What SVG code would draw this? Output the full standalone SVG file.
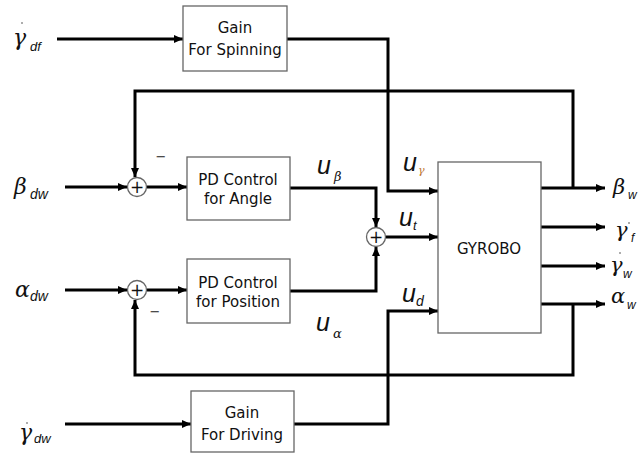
<svg xmlns="http://www.w3.org/2000/svg" width="640" height="456" viewBox="0 0 640 456">
<style>
.box{fill:#fff;stroke:#666;stroke-width:1.3}
.sum{fill:#fff;stroke:#666;stroke-width:1.3}
.wire{fill:none;stroke:#000;stroke-width:3;stroke-linejoin:miter}
.lbl{font-family:"DejaVu Sans",sans-serif;font-size:15px;fill:#111;text-anchor:middle}
.plus{font-family:"DejaVu Sans",sans-serif;font-size:17px;fill:#111;text-anchor:middle}
.minus{font-family:"DejaVu Sans",sans-serif;font-size:13px;fill:#222;text-anchor:middle}
.gr{font-family:"DejaVu Serif",serif;font-style:italic;fill:#111}
.sub{font-family:"Liberation Sans",sans-serif;font-style:italic;fill:#111}
.u{font-family:"Liberation Sans",sans-serif;font-style:italic;fill:#111;font-size:25px}
.dot{fill:#444}
</style>
<defs>
<marker id="ah" markerUnits="userSpaceOnUse" markerWidth="10" markerHeight="8" refX="9" refY="4" orient="auto">
<path d="M0,0 L9,4 L0,8 z" fill="#000"/>
</marker>
</defs>
<g id="connectors">
<path class="wire" d="M57,39 H183" marker-end="url(#ah)"/>
<path class="wire" d="M287,39 H388 V191 H438" marker-end="url(#ah)"/>
<path class="wire" d="M573,188 V91 H135 V177" marker-end="url(#ah)"/>
<path class="wire" d="M65,187 H127" marker-end="url(#ah)"/>
<path class="wire" d="M147,187 H187" marker-end="url(#ah)"/>
<path class="wire" d="M290,188 H376 V227" marker-end="url(#ah)"/>
<path class="wire" d="M65,290 H127" marker-end="url(#ah)"/>
<path class="wire" d="M147,290 H187" marker-end="url(#ah)"/>
<path class="wire" d="M573,304 V375 H135 V300" marker-end="url(#ah)"/>
<path class="wire" d="M290,291 H376 V247" marker-end="url(#ah)"/>
<path class="wire" d="M386,237 H438" marker-end="url(#ah)"/>
<path class="wire" d="M65,424 H191" marker-end="url(#ah)"/>
<path class="wire" d="M294,424 H388 V311 H438" marker-end="url(#ah)"/>
<path class="wire" d="M541,188 H605" marker-end="url(#ah)"/>
<path class="wire" d="M541,227 H605" marker-end="url(#ah)"/>
<path class="wire" d="M541,266 H605" marker-end="url(#ah)"/>
<path class="wire" d="M541,304 H605" marker-end="url(#ah)"/>
</g>
<g id="gain-spinning">
<rect class="box" x="183" y="6" width="104" height="65"/>
<text class="lbl" x="235" y="33">Gain</text>
<text class="lbl" x="235" y="55">For Spinning</text>
</g>
<g id="pd-angle">
<rect class="box" x="187" y="157" width="103" height="63"/>
<text class="lbl" x="238" y="185">PD Control</text>
<text class="lbl" x="238" y="204">for Angle</text>
</g>
<g id="pd-position">
<rect class="box" x="187" y="259" width="103" height="64"/>
<text class="lbl" x="238" y="288">PD Control</text>
<text class="lbl" x="238" y="307">for Position</text>
</g>
<g id="gain-driving">
<rect class="box" x="191" y="391" width="103" height="61"/>
<text class="lbl" x="242" y="418">Gain</text>
<text class="lbl" x="242" y="440">For Driving</text>
</g>
<g id="gyrobo">
<rect class="box" x="438" y="162" width="103" height="171"/>
<text class="lbl" x="489" y="254">GYROBO</text>
</g>
<g id="sum1">
<circle class="sum" cx="137" cy="187" r="9.5"/>
<text class="plus" x="137" y="193">+</text>
<text class="minus" x="161" y="161">−</text>
</g>
<g id="sum2">
<circle class="sum" cx="137" cy="290" r="9.5"/>
<text class="plus" x="137" y="296">+</text>
<text class="minus" x="155" y="316">−</text>
</g>
<g id="sum3">
<circle class="sum" cx="376" cy="237" r="9.5"/>
<text class="plus" x="376" y="243">+</text>
</g>
<g id="labels">
<circle class="dot" cx="22" cy="23" r="0.8"/>
<text class="gr" x="13" y="45" font-size="22">γ</text>
<text class="sub" x="30" y="51" font-size="13">df</text>
<text class="gr" x="14" y="194" font-size="22">β</text>
<text class="sub" x="30" y="199" font-size="14">dw</text>
<text class="gr" x="15" y="297" font-size="22">α</text>
<text class="sub" x="30" y="301" font-size="14">dw</text>
<circle class="dot" cx="27" cy="423" r="0.8"/>
<text class="gr" x="19" y="440" font-size="22">γ</text>
<text class="sub" x="34" y="443" font-size="13">dw</text>
<text class="u" x="317" y="174">u</text>
<text class="gr" x="334" y="181" font-size="13">β</text>
<text class="u" x="316" y="331">u</text>
<text class="gr" x="333" y="338" font-size="13">α</text>
<text class="u" x="403" y="171">u</text>
<text class="gr" x="418" y="174" font-size="11" style="fill:#c07830">γ</text>
<text class="u" x="399" y="226">u</text>
<text class="sub" x="413" y="230" font-size="13">t</text>
<text class="u" x="402" y="302">u</text>
<text class="sub" x="416" y="306" font-size="14">d</text>
<text class="gr" x="613" y="194" font-size="21">β</text>
<text class="sub" x="628" y="199" font-size="12">w</text>
<circle class="dot" cx="629" cy="223" r="0.8"/>
<text class="gr" x="615" y="237" font-size="21">γ</text>
<text class="sub" x="631" y="242" font-size="12">f</text>
<circle class="dot" cx="620" cy="253" r="0.8"/>
<text class="gr" x="610" y="272" font-size="21">γ</text>
<text class="sub" x="623" y="278" font-size="12">w</text>
<text class="gr" x="611" y="303" font-size="21">α</text>
<text class="sub" x="627" y="309" font-size="12">w</text>
</g>
</svg>
